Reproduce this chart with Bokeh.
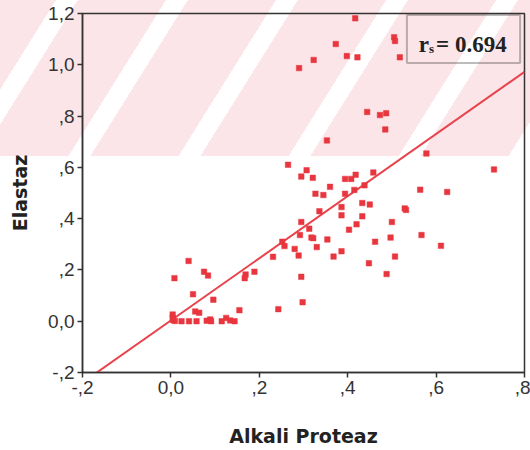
from bokeh.plotting import figure
from bokeh.models import FixedTicker, Label, BoxAnnotation, InlineStyleSheet, Range1d, ColumnDataSource
from bokeh.embed import file_html
from bokeh.resources import INLINE

# ---- data ----
alkali_proteaz = [
    0.417, 0.373, 0.398, 0.422, 0.323, 0.290, 0.505, 0.507, 0.518, 0.444,
    0.473, 0.487, 0.485, 0.353, 0.578, 0.731, 0.265, 0.307, 0.295, 0.321,
    0.327, 0.345, 0.360, 0.394, 0.408, 0.418, 0.394, 0.415, 0.438, 0.458,
    0.564, 0.625, 0.386, 0.433, 0.450, 0.529, 0.532, 0.336, 0.386, 0.433,
    0.295, 0.500, 0.420, 0.313, 0.403, 0.292, 0.318, 0.322, 0.354, 0.497,
    0.567, 0.252, 0.257, 0.462, 0.280, 0.330, 0.611, 0.231, 0.289, 0.368,
    0.386, 0.507, 0.448, 0.488, 0.295, 0.298, 0.243, 0.169, 0.167, 0.189,
    0.155, 0.040, 0.008, 0.075, 0.084, 0.050, 0.096, 0.055, 0.064, 0.004,
    0.004, 0.005, 0.009, 0.024, 0.041, 0.058, 0.081, 0.089, 0.091, 0.115,
    0.125, 0.134, 0.144,
]
elastaz = [
    1.181, 1.081, 1.034, 1.029, 1.019, 0.987, 1.107, 1.093, 1.029, 0.816,
    0.804, 0.811, 0.748, 0.705, 0.654, 0.592, 0.610, 0.589, 0.564, 0.559,
    0.497, 0.492, 0.524, 0.555, 0.555, 0.571, 0.497, 0.512, 0.530, 0.580,
    0.513, 0.504, 0.445, 0.461, 0.455, 0.440, 0.434, 0.429, 0.413, 0.409,
    0.387, 0.387, 0.378, 0.361, 0.357, 0.336, 0.326, 0.324, 0.319, 0.326,
    0.336, 0.310, 0.293, 0.310, 0.282, 0.289, 0.294, 0.251, 0.256, 0.252,
    0.273, 0.252, 0.226, 0.184, 0.173, 0.074, 0.047, 0.182, 0.168, 0.193,
    0.043, 0.235, 0.168, 0.193, 0.178, 0.105, 0.084, 0.038, 0.033, 0.026,
    0.013, 0.004, 0.001, 0.000, 0.000, 0.000, 0.002, 0.007, 0.000, 0.000,
    0.013, 0.003, 0.000,
]

fit_intercept = 0.003
fit_slope = 1.212

x_ticks = [-0.2, 0.0, 0.2, 0.4, 0.6, 0.8]
x_tick_labels = ["-,2", "0,0", ",2", ",4", ",6", ",8"]
y_ticks = [-0.2, 0.0, 0.2, 0.4, 0.6, 0.8, 1.0, 1.2]
y_tick_labels = ["-,2", "0,0", ",2", ",4", ",6", ",8", "1,0", "1,2"]

x_title = "Alkali Proteaz"
y_title = "Elastaz"
r_symbol = "r"
r_sub = "s"
r_value_text = "= 0.694"

# ---- figure (faint striped watermark band across the top, as in the scan) ----
css = """
:host {
  background-color: #ffffff;
  background-image: repeating-linear-gradient(122deg,
      #fce5e8 0px, #fce5e8 47.5px,
      #ffffff 47.5px, #ffffff 66px,
      #fce5e8 66px, #fce5e8 93.3px);
  background-size: 100% 156px;
  background-repeat: no-repeat;
}
"""

p = figure(width=530, height=450,
           x_range=Range1d(x_ticks[0], x_ticks[-1]),
           y_range=Range1d(y_ticks[0], y_ticks[-1]),
           output_backend="svg", toolbar_location=None,
           min_border_left=82, min_border_right=6,
           min_border_top=13, min_border_bottom=78,
           stylesheets=[InlineStyleSheet(css=css)])

p.background_fill_color = None
p.border_fill_color = None
p.outline_line_color = "#333333"
p.outline_line_width = 1.5
p.xgrid.visible = False
p.ygrid.visible = False

p.xaxis.ticker = FixedTicker(ticks=x_ticks)
p.xaxis.major_label_overrides = dict(zip(x_ticks, x_tick_labels))
p.yaxis.ticker = FixedTicker(ticks=y_ticks)
p.yaxis.major_label_overrides = dict(zip(y_ticks, y_tick_labels))

for ax in (p.xaxis, p.yaxis):
    ax.axis_line_color = "#333333"
    ax.axis_line_width = 1.5
    ax.major_tick_line_color = "#333333"
    ax.major_tick_line_width = 1.5
    ax.major_tick_in = 0
    ax.major_tick_out = 5
    ax.minor_tick_line_color = None
    ax.major_label_text_font = "Liberation Sans"
    ax.major_label_text_font_size = "19px"
    ax.major_label_text_color = "#333333"
    ax.major_label_standoff = 3
    ax.axis_label_text_font = "DejaVu Sans"
    ax.axis_label_text_font_style = "bold"
    ax.axis_label_text_font_size = "19px"
    ax.axis_label_text_color = "#222222"

p.xaxis.axis_label = x_title
p.xaxis.axis_label_standoff = 28
p.yaxis.axis_label = y_title
p.yaxis.axis_label_standoff = 14

red = "#e8363f"

# regression line across the x range
line_x = [x_ticks[0], x_ticks[-1]]
line_y = [fit_intercept + fit_slope * v for v in line_x]
p.line(line_x, line_y, line_color="#e8424b", line_width=2)

src = ColumnDataSource(dict(x=alkali_proteaz, y=elastaz))
p.scatter("x", "y", source=src, marker="square", size=5.5,
          fill_color=red, line_color=red, line_width=0.5)

# r_s box
p.add_layout(BoxAnnotation(left=0.534, right=0.790, top=1.194, bottom=1.007,
                           fill_color=None, line_color="#222222", line_width=2))
p.add_layout(Label(x=0.561, y=1.079, text=r_symbol, text_font="Liberation Serif",
                   text_font_style="bold", text_font_size="23px", text_color="#222222",
                   text_baseline="alphabetic"))
p.add_layout(Label(x=0.584, y=1.062, text=r_sub, text_font="Liberation Serif",
                   text_font_style="bold", text_font_size="13px", text_color="#222222",
                   text_baseline="alphabetic"))
p.add_layout(Label(x=0.600, y=1.079, text=r_value_text, text_font="Liberation Serif",
                   text_font_style="bold", text_font_size="23px", text_color="#222222",
                   text_baseline="alphabetic"))

open("out.html", "w").write(file_html(p, INLINE))
